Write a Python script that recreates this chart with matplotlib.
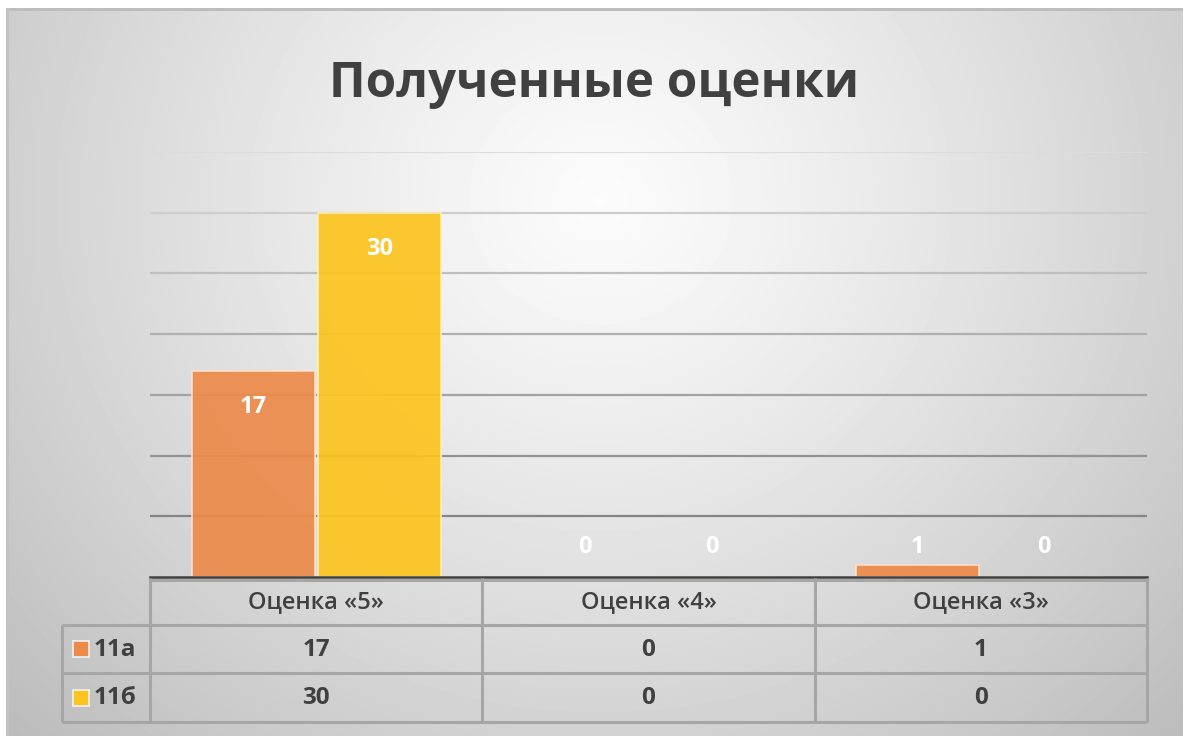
import numpy as np
import matplotlib.pyplot as plt
from matplotlib.patches import Rectangle

W, H = 1185, 736

title = 'Полученные оценки'
categories = ['Оценка «5»', 'Оценка «4»', 'Оценка «3»']
series_names = ['11а', '11б']
values_11a = [17, 0, 1]
values_11b = [30, 0, 0]
series_values = [values_11a, values_11b]
colors = ['#ed8a4a', '#fcc41f']
edge_colors = ['#fde3cc', '#fff0b8']
y_max = 35
y_step = 5

plt.rcParams['font.family'] = ['Open Sans', 'DejaVu Sans']
text_color = '#404040'

fig = plt.figure(figsize=(W / 100, H / 100), dpi=100)

# background: soft radial gradient with a thin frame
bg = fig.add_axes([0, 0, 1, 1])
yy, xx = np.mgrid[0:H, 0:W]
r = np.sqrt(((xx - 600) / 680.0) ** 2 + ((yy - 200) / 640.0) ** 2)
shade = np.clip(0.985 - 0.2 * r ** 1.2, 0, 1)
shade[8:11, 6:1183] = 0.74
shade[8:, 6:9] = 0.76
shade[:8, :] = 1.0
shade[:, :6] = 1.0
shade[:, 1183:] = 1.0
bg.imshow(shade, cmap='gray', vmin=0, vmax=1, extent=(0, W, H, 0),
          aspect='auto', interpolation='bilinear')
bg.set_xlim(0, W)
bg.set_ylim(H, 0)
bg.axis('off')

# title
fig.text(594 / W, 1 - 97 / H, title, ha='center', va='baseline',
         fontsize=35.5, fontweight='bold', color=text_color)

# plot area
left, right, top, base = 150, 1147, 152, 577
ax = fig.add_axes([left / W, 1 - base / H, (right - left) / W, (base - top) / H])
ax.patch.set_alpha(0)
ax.set_xlim(-0.5, len(categories) - 0.5)
ax.set_ylim(0, y_max)

grid_vals = np.arange(y_step, y_max + 1, y_step)
grid_cols = plt.cm.gray(np.linspace(0.52, 0.86, len(grid_vals)))
for gv, gc in zip(grid_vals, grid_cols):
    ax.axhline(gv, color=gc, lw=1.6, zorder=1)

x = np.arange(len(categories))
bar_w = 0.37
offsets = [-0.19, 0.19]
for vals, off, col, ec in zip(series_values, offsets, colors, edge_colors):
    ax.bar(x + off, vals, bar_w, color=col, alpha=0.92, edgecolor=ec,
           linewidth=1.2, zorder=2)
    for xi, v in zip(x + off, vals):
        ax.text(xi, max(v - 3, 2.5), str(v), ha='center', va='center',
                color='white', fontsize=17, fontweight='bold', zorder=4)

ax.axhline(0, color='#404040', lw=1.8, zorder=3, clip_on=False)
for s in ax.spines.values():
    s.set_visible(False)
ax.set_xticks([])
ax.set_yticks([])

# data table under the axis
tab = fig.add_axes([0, 0, 1, 1])
tab.patch.set_alpha(0)
tab.set_xlim(0, W)
tab.set_ylim(H, 0)
tab.axis('off')

line_col = '#a6a6a6'
lw = 2.2
col_edges = np.linspace(left, right, len(categories) + 1)
row_edges = [base, 625, 673, 722]
label_left = 62

for ce in col_edges:
    tab.plot([ce, ce], [base + 1, row_edges[-1]], color=line_col, lw=lw,
             solid_capstyle='butt')
tab.plot([left, right], [base + 3, base + 3], color=line_col, lw=lw)
for re in row_edges[1:]:
    tab.plot([label_left, right], [re, re], color=line_col, lw=lw,
             solid_capstyle='butt')
tab.plot([label_left, label_left], [row_edges[1], row_edges[-1]],
         color=line_col, lw=lw, solid_capstyle='butt')

for i, cat in enumerate(categories):
    cx = (col_edges[i] + col_edges[i + 1]) / 2
    tab.text(cx, (row_edges[0] + row_edges[1]) / 2 + 1, cat, ha='center',
             va='center', fontsize=17, fontweight='semibold', color=text_color)

for j, (name, vals, col) in enumerate(zip(series_names, series_values, colors)):
    cy = (row_edges[j + 1] + row_edges[j + 2]) / 2
    tab.add_patch(Rectangle((73, cy - 8), 16, 16, facecolor=col,
                            edgecolor='#f2f2f2', lw=1.2))
    tab.text(94, cy + 1, name, ha='left', va='center', fontsize=17.5,
             fontweight='bold', color=text_color)
    for i, v in enumerate(vals):
        cx = (col_edges[i] + col_edges[i + 1]) / 2
        tab.text(cx, cy + 1, str(v), ha='center', va='center', fontsize=17.5,
                 fontweight='bold', color=text_color)

fig.savefig('out.png', dpi=100)
